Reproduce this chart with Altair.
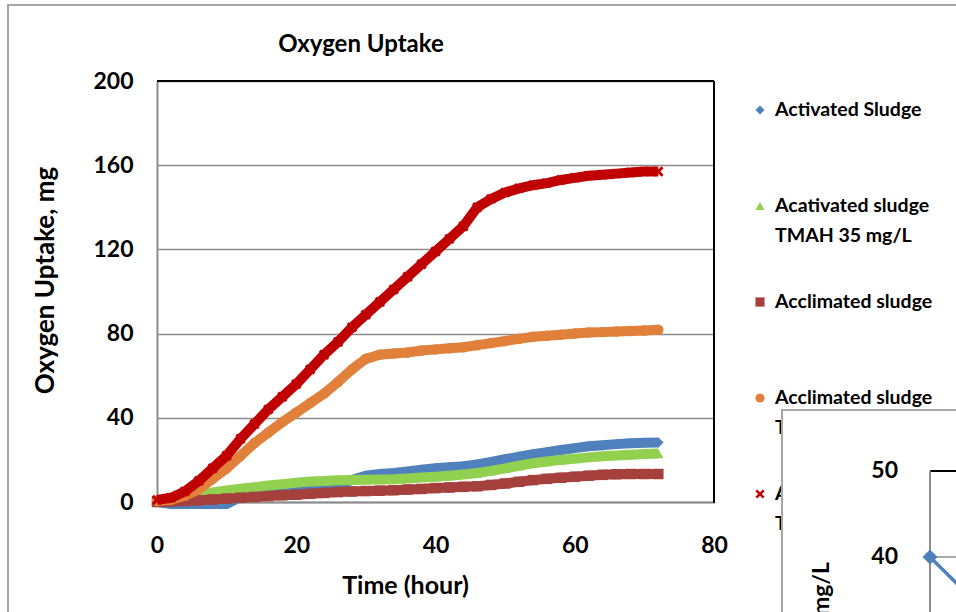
import altair as alt
import pandas as pd

# ---------------- data ----------------
hours = [0, 2, 4, 6, 8, 10, 12, 14, 16, 18, 20, 22, 24, 26, 28, 30, 32, 34, 36,
         38, 40, 42, 44, 46, 48, 50, 52, 54, 56, 58, 60, 62, 64, 66, 68, 70, 72]

activated = [0, -1, -1, -1, -1, -1, 2.5, 4, 4.5, 5, 5.5, 6.2, 7, 8, 10.5, 12.5, 13.3, 13.8, 14.5,
             15.3, 16, 16.5, 17, 17.8, 19, 20.3, 21.5, 22.7, 23.7, 24.7, 25.6, 26.5, 27, 27.5, 27.9, 28.1, 28.3]
activated_tmah = [0.5, 1.5, 2.5, 3.5, 4.5, 5.5, 6.3, 7, 7.8, 8.5, 9.2, 9.7, 10, 10.3, 10.5, 10.6, 10.7, 10.8, 11.2,
                  11.6, 12, 12.5, 13.1, 13.8, 14.8, 16, 17.2, 18.4, 19.2, 20, 20.6, 21.2, 21.7, 22.1, 22.5, 22.8, 23]
acclimated = [0, 0.2, 0.5, 0.8, 1.2, 1.6, 2, 2.4, 2.8, 3.2, 3.5, 3.9, 4.3, 4.7, 5, 5.2, 5.4, 5.6, 5.9,
              6.2, 6.6, 6.9, 7.2, 7.5, 8.1, 8.8, 9.6, 10.4, 11, 11.5, 12, 12.5, 12.9, 13.2, 13.3, 13.3, 13.3]
acclimated_tmah35 = [0.5, 1, 3, 6, 11, 16, 22, 28, 33, 38, 42.5, 47, 51.5, 57, 63, 68, 70, 70.5, 71,
                     72, 72.5, 73, 73.5, 74.5, 75.5, 76.5, 77.5, 78.5, 79, 79.5, 80, 80.5, 80.7, 81, 81.2, 81.5, 81.8]
acclimated_tmah70 = [1, 2, 5, 10, 16, 22, 30, 37, 44, 50, 56, 63, 70, 76, 83, 89, 95, 101, 107,
                     113, 119, 125, 131, 140, 144, 147, 149, 150.5, 151.5, 153, 154, 155, 155.5, 156, 156.5, 157, 157]

series_names = ["Activated Sludge",
                "Acativated sludge TMAH 35 mg/L",
                "Acclimated sludge",
                "Acclimated sludge TMAH 35 mg/L",
                "Acclimated sludge TMAH 70 mg/L"]
legend_line1 = ["Activated Sludge", "Acativated sludge", "Acclimated sludge",
                "Acclimated sludge", "Acclimated sludge"]
legend_line2 = ["", "TMAH 35 mg/L", "", "TMAH 35 mg/L", "TMAH 70 mg/L"]
series_values = [activated, activated_tmah, acclimated, acclimated_tmah35, acclimated_tmah70]

x_ticks = [0, 20, 40, 60, 80]
y_ticks = [0, 40, 80, 120, 160, 200]

chart_title = "Oxygen Uptake"
x_title = "Time (hour)"
y_title = "Oxygen Uptake, mg"

# fragment of the neighbouring chart (overlapping at bottom right)
inset_x = [0, 1, 2]
inset_y = [40, 37, 34]
inset_ticks = [40, 50]
inset_title = "TMAH, mg/L"

# ---------------- styles ----------------
colors = ["#4F81BD", "#92D050", "#A5403D", "#E0803A", "#C00000"]
XPATH = "M-1,-0.6L-0.6,-1L0,-0.4L0.6,-1L1,-0.6L0.4,0L1,0.6L0.6,1L0,0.4L-0.6,1L-1,0.6L-0.4,0Z"
shapes = ["diamond", "triangle-up", "square", "circle", XPATH]
FONT = "Lato"
GRID = "#8C8C8C"

rows = []
for name, vals in zip(series_names, series_values):
    for h, v in zip(hours, vals):
        rows.append({"series": name, "hour": h, "uptake": v})
df = pd.DataFrame(rows)

color_enc = alt.Color("series:N", scale=alt.Scale(domain=series_names, range=colors), legend=None)
shape_enc = alt.Shape("series:N", scale=alt.Scale(domain=series_names, range=shapes), legend=None)

x_enc = alt.X("hour:Q", scale=alt.Scale(domain=[0, 80], nice=False),
              axis=alt.Axis(values=x_ticks, title=x_title, grid=False, ticks=False,
                            domainColor=GRID, domainWidth=2, labelFontSize=23,
                            labelFont=FONT, labelFontWeight="bold", labelColor="black",
                            labelPadding=32, labelFlush=False,
                            titleFont=FONT, titleFontSize=25, titleFontWeight="bold",
                            titleColor="black", titleX=248, titleY=83,
                            titleBaseline="middle", titleAlign="center"))
y_enc = alt.Y("uptake:Q", scale=alt.Scale(domain=[0, 200], nice=False),
              axis=alt.Axis(values=y_ticks, title=y_title, grid=True, gridColor=GRID,
                            gridWidth=1.6, ticks=False, domainColor=GRID, domainWidth=2,
                            labelFontSize=23, labelFont=FONT, labelFontWeight="bold",
                            labelColor="black", labelPadding=24, labelFlush=False,
                            titleFont=FONT, titleFontSize=26, titleFontWeight="bold",
                            titleColor="black", titleX=-112, titleY=199, titleAngle=270,
                            titleBaseline="middle", titleAlign="center"))

series_layers = []
for name in series_names:
    base = alt.Chart(df).transform_filter(alt.datum.series == name)
    series_layers.append(base.mark_line(strokeWidth=10).encode(
        x=x_enc, y=y_enc, color=color_enc, order="hour:Q"))
    series_layers.append(base.mark_point(filled=True, size=110, opacity=1).encode(
        x=x_enc, y=y_enc, color=color_enc, shape=shape_enc))

# frame lines (top & right black edges of the plot area)
frame_df = pd.DataFrame({"k": [0]})
frame_top = alt.Chart(frame_df).mark_rule(color="black", strokeWidth=2).encode(
    x=alt.value(0), x2=alt.value(557), y=alt.value(0))
frame_right = alt.Chart(frame_df).mark_rule(color="black", strokeWidth=2).encode(
    x=alt.value(557), y=alt.value(0), y2=alt.value(422))

main_layer = alt.layer(*series_layers, frame_top, frame_right)

# outer chart-area border
border = alt.Chart(frame_df).mark_rect(fillOpacity=0, stroke="#A6A6A6", strokeWidth=2).encode(
    x=alt.value(-149), x2=alt.value(900), y=alt.value(-76), y2=alt.value(700))

# title
title_layer = alt.Chart(pd.DataFrame({"t": [chart_title]})).mark_text(
    font=FONT, fontSize=24, fontWeight="bold", color="black", align="center", baseline="middle"
).encode(text="t:N", x=alt.value(204), y=alt.value(-36))

# legend (manual)
leg_df = pd.DataFrame({"series": series_names, "l1": legend_line1, "l2": legend_line2})
leg_y = alt.Y("series:N", scale=alt.Scale(type="point", domain=series_names, range=[29, 413], padding=0),
              axis=None)
leg_sym = alt.Chart(leg_df).mark_point(filled=True, size=85, opacity=1).encode(
    x=alt.value(603), y=leg_y, color=color_enc, shape=shape_enc)
leg_t1 = alt.Chart(leg_df).mark_text(font=FONT, fontSize=19.5, fontWeight="bold", color="black",
                                     align="left", baseline="middle").encode(
    x=alt.value(618), y=leg_y, text="l1:N")
leg_t2 = alt.Chart(leg_df).mark_text(font=FONT, fontSize=19.5, fontWeight="bold", color="black",
                                     align="left", baseline="middle", dy=30).encode(
    x=alt.value(618), y=leg_y, text="l2:N")
legend_layer = alt.layer(leg_sym, leg_t1, leg_t2)

# inset (neighbouring chart fragment)
in_y_scale = alt.Scale(domain=[40, 50], range=[476, 390])
in_x_scale = alt.Scale(domain=[0, 1], range=[773, 799])
inset_df = pd.DataFrame({"x": inset_x, "y": inset_y})
tick_df = pd.DataFrame({"v": inset_ticks, "lab": [str(v) for v in inset_ticks]})
in_box = alt.Chart(frame_df).mark_rect(fill="white", stroke="#A6A6A6", strokeWidth=2).encode(
    x=alt.value(625), x2=alt.value(900), y=alt.value(329), y2=alt.value(700))
in_grid = alt.Chart(tick_df).transform_filter(alt.datum.v < 50).mark_rule(color=GRID, strokeWidth=1.6).encode(
    y=alt.Y("v:Q", scale=in_y_scale, axis=None), x=alt.value(773), x2=alt.value(820))
in_top = alt.Chart(tick_df).transform_filter(alt.datum.v == 50).mark_rule(color="black", strokeWidth=2).encode(
    y=alt.Y("v:Q", scale=in_y_scale, axis=None), x=alt.value(773), x2=alt.value(820))
in_axis = alt.Chart(frame_df).mark_rule(color=GRID, strokeWidth=2).encode(
    x=alt.value(773), y=alt.value(390), y2=alt.value(600))
in_labels = alt.Chart(tick_df).mark_text(font=FONT, fontSize=23, fontWeight="bold", color="black",
                                         align="right", baseline="middle").encode(
    y=alt.Y("v:Q", scale=in_y_scale, axis=None), x=alt.value(741), text="lab:N")
in_title = alt.Chart(pd.DataFrame({"t": [inset_title]})).mark_text(
    font=FONT, fontSize=23, fontWeight="bold", color="black", align="right", baseline="middle", angle=270
).encode(text="t:N", x=alt.value(665), y=alt.value(481))
in_line = alt.Chart(inset_df).mark_line(color="#4F81BD", strokeWidth=3.5).encode(
    x=alt.X("x:Q", scale=in_x_scale, axis=None), y=alt.Y("y:Q", scale=in_y_scale, axis=None))
in_pt = alt.Chart(inset_df).transform_filter(alt.datum.x == 0).mark_point(
    shape="diamond", filled=True, size=230, color="#4F81BD", opacity=1).encode(
    x=alt.X("x:Q", scale=in_x_scale, axis=None), y=alt.Y("y:Q", scale=in_y_scale, axis=None))
inset_layer = alt.layer(in_box, in_grid, in_top, in_axis, in_labels, in_title, in_line, in_pt)

chart = alt.layer(border, main_layer, legend_layer, title_layer, inset_layer).resolve_scale(
    x="independent", y="independent"
).properties(
    width=557, height=421,
    padding={"left": 157, "top": 81, "right": 242, "bottom": 110},
    autosize=alt.AutoSizeParams(type="none"),
    background="white",
).configure_view(stroke=None)

chart.save("out.html", embed_options={"renderer": "svg", "actions": False})
